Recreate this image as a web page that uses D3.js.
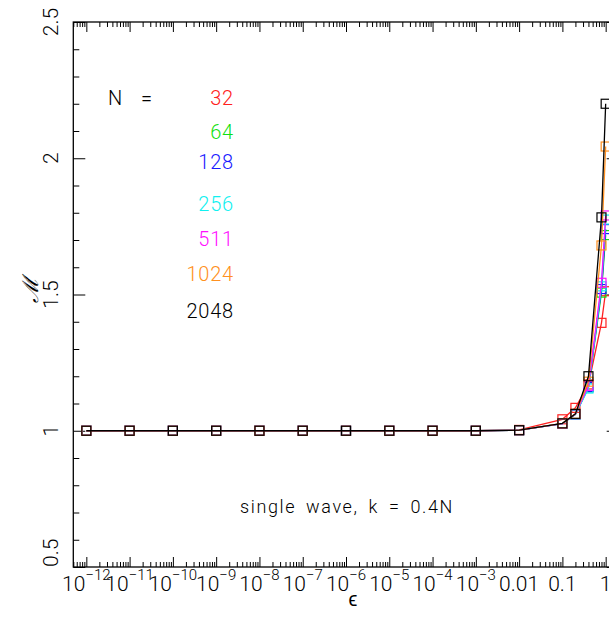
<!DOCTYPE html>
<html>
<head>
<meta charset="utf-8">
<script src="https://cdn.jsdelivr.net/npm/d3@7/dist/d3.min.js"></script>
<style>
  body { margin: 0; background: #fff; }
  svg { display: block; }
  text { font-family: Roboto, "Liberation Sans", sans-serif; font-weight: 300; fill: #000; }
</style>
</head>
<body>
<svg id="chart" width="609" height="635"></svg>
<script>
// Perturbation amplitude epsilon (x) and the measured ratio M for each resolution N
const eps = [1e-12, 1e-11, 1e-10, 1e-9, 1e-8, 1e-7, 1e-6, 1e-5, 1e-4, 1e-3, 0.01, 0.1, 0.2, 0.4, 0.8, 1.0];

const resolutions = ["32", "64", "128", "256", "511", "1024", "2048"];
const seriesColors = ["#ff2020", "#10e010", "#1a1aff", "#10f0f0", "#ff10ff", "#ff9020", "#000000"];

const M32   = [1, 1, 1, 1, 1, 1, 1, 1, 1, 1, 1.003, 1.042, 1.084, 1.170, 1.396, 1.512];
const M64   = [1, 1, 1, 1, 1, 1, 1, 1, 1, 1, 1.002, 1.026, 1.060, 1.160, 1.507, 1.718];
const M128  = [1, 1, 1, 1, 1, 1, 1, 1, 1, 1, 1.002, 1.026, 1.060, 1.160, 1.520, 1.740];
const M256  = [1, 1, 1, 1, 1, 1, 1, 1, 1, 1, 1.002, 1.026, 1.060, 1.155, 1.530, 1.775];
const M511  = [1, 1, 1, 1, 1, 1, 1, 1, 1, 1, 1.002, 1.026, 1.061, 1.165, 1.543, 1.790];
const M1024 = [1, 1, 1, 1, 1, 1, 1, 1, 1, 1, 1.002, 1.027, 1.062, 1.180, 1.680, 2.043];
const M2048 = [1, 1, 1, 1, 1, 1, 1, 1, 1, 1, 1.002, 1.027, 1.062, 1.200, 1.783, 2.200];
const seriesValues = [M32, M64, M128, M256, M511, M1024, M2048];

// Axis ticks and their labels
const xTickValues = [1e-12, 1e-11, 1e-10, 1e-9, 1e-8, 1e-7, 1e-6, 1e-5, 1e-4, 1e-3, 0.01, 0.1, 1];
const xTickLabels = ["10^−12", "10^−11", "10^−10", "10^−9", "10^−8", "10^−7", "10^−6", "10^−5", "10^−4", "10^−3", "0.01", "0.1", "1"];
const yTickValues = [0.5, 1, 1.5, 2, 2.5];
const yTickLabels = ["0.5", "1", "1.5", "2", "2.5"];

const svg = d3.select("#chart");

const x = d3.scaleLog().domain([5e-13, 2]).range([73.3, 618.7]);
const y = d3.scaleLinear().domain([0.5, 2.5]).range([567, 22]);

const [x0, x1] = x.range();
const [y0, y1] = y.range();

// minor ticks: 2..9 times each decade, and every 0.1 on the linear axis
const xMinor = [];
for (let k = -13; k <= 0; k++) {
  for (let m = 2; m <= 9; m++) {
    const v = m * Math.pow(10, k);
    if (v >= 5e-13 && v <= 2) xMinor.push(v);
  }
}
const yMinor = d3.range(5, 26).map(d => d / 10).filter(v => yTickValues.indexOf(v) < 0);

function styleAxis(g) {
  g.select(".domain").remove();
  g.selectAll(".tick line").attr("stroke", "#000").attr("stroke-width", 1);
}

// inward-pointing ticks on all four sides
svg.append("g").attr("transform", `translate(0,${y0})`)
  .call(d3.axisBottom(x).tickValues(xTickValues).tickSizeInner(-10).tickSizeOuter(0).tickFormat(""))
  .call(styleAxis);
svg.append("g").attr("transform", `translate(0,${y0})`)
  .call(d3.axisBottom(x).tickValues(xMinor).tickSizeInner(-5).tickSizeOuter(0).tickFormat(""))
  .call(styleAxis);
svg.append("g").attr("transform", `translate(0,${y1})`)
  .call(d3.axisTop(x).tickValues(xTickValues).tickSizeInner(-10).tickSizeOuter(0).tickFormat(""))
  .call(styleAxis);
svg.append("g").attr("transform", `translate(0,${y1})`)
  .call(d3.axisTop(x).tickValues(xMinor).tickSizeInner(-5).tickSizeOuter(0).tickFormat(""))
  .call(styleAxis);
svg.append("g").attr("transform", `translate(${x0},0)`)
  .call(d3.axisLeft(y).tickValues(yTickValues).tickSizeInner(-12).tickSizeOuter(0).tickFormat(""))
  .call(styleAxis);
svg.append("g").attr("transform", `translate(${x0},0)`)
  .call(d3.axisLeft(y).tickValues(yMinor).tickSizeInner(-6).tickSizeOuter(0).tickFormat(""))
  .call(styleAxis);
svg.append("g").attr("transform", `translate(${x1},0)`)
  .call(d3.axisRight(y).tickValues(yTickValues).tickSizeInner(-12).tickSizeOuter(0).tickFormat(""))
  .call(styleAxis);
svg.append("g").attr("transform", `translate(${x1},0)`)
  .call(d3.axisRight(y).tickValues(yMinor).tickSizeInner(-6).tickSizeOuter(0).tickFormat(""))
  .call(styleAxis);

// frame
svg.append("rect")
  .attr("x", x0).attr("y", y1)
  .attr("width", x1 - x0).attr("height", y0 - y1)
  .attr("fill", "none").attr("stroke", "#000").attr("stroke-width", 1.3);

// x tick labels, with superscript exponents
xTickValues.forEach((v, i) => {
  const parts = xTickLabels[i].split("^");
  const t = svg.append("text")
    .attr("x", x(v)).attr("y", 591)
    .attr("text-anchor", "middle")
    .attr("font-size", 21);
  t.append("tspan").text(parts[0]);
  if (parts.length > 1) {
    t.append("tspan").attr("dy", -11).attr("font-size", 15).text(parts[1]);
  }
});

// y tick labels, rotated
yTickValues.forEach((v, i) => {
  svg.append("text")
    .attr("transform", `translate(58,${y(v)}) rotate(-90)`)
    .attr("text-anchor", i === 0 ? "start" : "middle")
    .attr("font-size", 21)
    .text(yTickLabels[i]);
});

// axis titles
svg.append("text")
  .attr("transform", "translate(38,290) rotate(-90)")
  .attr("text-anchor", "middle")
  .attr("font-size", 22)
  .style("font-family", "'DejaVu Serif', serif")
  .style("font-style", "italic")
  .text("ℳ");
svg.append("text")
  .attr("x", 353).attr("y", 606)
  .attr("text-anchor", "middle")
  .attr("font-size", 20)
  .text("ϵ");

// series: lines then open squares
const line = d3.line().x((d, i) => x(eps[i])).y(d => y(d));
seriesValues.forEach((vals, s) => {
  const g = svg.append("g");
  g.append("path")
    .attr("d", line(vals))
    .attr("fill", "none")
    .attr("stroke", seriesColors[s])
    .attr("stroke-width", 1.3);
  g.selectAll("rect")
    .data(vals)
    .join("rect")
    .attr("x", (d, i) => x(eps[i]) - 4.5)
    .attr("y", d => y(d) - 4.5)
    .attr("width", 9).attr("height", 9)
    .attr("fill", "none")
    .attr("stroke", seriesColors[s])
    .attr("stroke-width", 1.2);
});

// legend
svg.append("text")
  .attr("x", 108).attr("y", 105)
  .attr("font-size", 20)
  .attr("word-spacing", 14)
  .text("N =");
const legendBaselines = [105, 139, 169, 211, 246, 281, 318];
resolutions.forEach((label, s) => {
  svg.append("text")
    .attr("x", 234).attr("y", legendBaselines[s])
    .attr("text-anchor", "end")
    .attr("font-size", 20)
    .attr("letter-spacing", 0.8)
    .style("fill", seriesColors[s])
    .text(label);
});

// annotation
svg.append("text")
  .attr("x", 347).attr("y", 513)
  .attr("text-anchor", "middle")
  .attr("font-size", 18)
  .attr("letter-spacing", 1.6)
  .attr("word-spacing", 4)
  .text("single wave, k = 0.4N");
</script>
</body>
</html>
